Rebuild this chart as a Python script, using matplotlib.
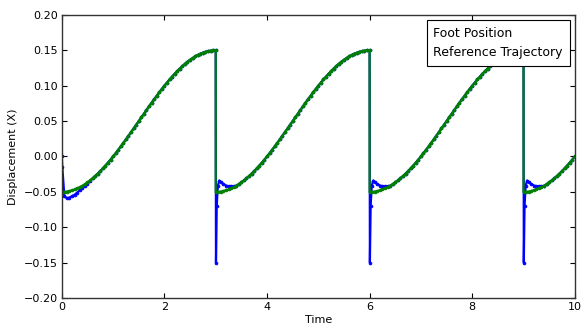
import numpy as np
import matplotlib
matplotlib.use("Agg")
import matplotlib.pyplot as plt

# one cycle of the reference trajectory (0.05 s apart)
ref_cycle = [-0.0500, -0.0499, -0.0495, -0.0488, -0.0478, -0.0466, -0.0451, -0.0434, -0.0414, -0.0391,
             -0.0366, -0.0339, -0.0309, -0.0277, -0.0243, -0.0207, -0.0169, -0.0129, -0.0088, -0.0045,
             0.0000, 0.0046, 0.0093, 0.0142, 0.0191, 0.0241, 0.0292, 0.0344, 0.0396, 0.0448,
             0.0500, 0.0552, 0.0604, 0.0656, 0.0708, 0.0759, 0.0809, 0.0858, 0.0907, 0.0954,
             0.1000, 0.1045, 0.1088, 0.1129, 0.1169, 0.1207, 0.1243, 0.1277, 0.1309, 0.1339,
             0.1366, 0.1391, 0.1414, 0.1434, 0.1451, 0.1466, 0.1478, 0.1488, 0.1495, 0.1499, 0.1500]
sample_dt = 0.05
cycle_start = [0.0, 3.0, 6.0, 9.0]
cycle_len = [61, 61, 61, 21]

# foot position where it differs from the reference
foot_start_t = [0.00, 0.01, 0.05, 0.10, 0.15, 0.20, 0.25, 0.30, 0.35, 0.40, 0.45, 0.50, 0.55]
foot_start_y = [0.000, -0.015, -0.056, -0.059, -0.058, -0.056, -0.054, -0.051, -0.048, -0.045, -0.042, -0.039, -0.035]
foot_start_join = 12
foot_jump_dt = [0.005, 0.02, 0.04, 0.07, 0.10, 0.15, 0.20, 0.25, 0.30, 0.35]
foot_jump_y = [-0.150, -0.070, -0.042, -0.034, -0.036, -0.039, -0.041, -0.042, -0.042, -0.042]
foot_jump_join = 8

ref_t, ref_y = [], []
foot_t, foot_y = [], []
for i, (s, n) in enumerate(zip(cycle_start, cycle_len)):
    for k in range(n):
        ref_t.append(s + k * sample_dt)
        ref_y.append(ref_cycle[k])
    if i == 0:
        foot_t += foot_start_t
        foot_y += foot_start_y
        join = foot_start_join
    else:
        foot_t += [s + d for d in foot_jump_dt]
        foot_y += foot_jump_y
        join = foot_jump_join
    for k in range(join, n):
        foot_t.append(s + k * sample_dt)
        foot_y.append(ref_cycle[k])

fig = plt.figure(figsize=(5.83, 3.25), dpi=100)
ax = fig.add_axes([0.106, 0.083, 0.88, 0.871])

ax.plot(foot_t, foot_y, '.-', color=(0, 0, 1), lw=1.6, ms=4, mew=0.6, label='Foot Position')
ax.plot(ref_t, ref_y, '.-', color=(0, 0.5, 0), lw=1.6, ms=4, mew=0.6, label='Reference Trajectory')

ax.set_xlim(0, 10)
ax.set_ylim(-0.2, 0.2)
ax.set_xticks([0, 2, 4, 6, 8, 10])
ax.set_yticks(np.arange(-0.20, 0.201, 0.05))
ax.tick_params(direction='in', top=True, right=True, length=3.5, labelsize=8, pad=3)
for sp in ax.spines.values():
    sp.set_linewidth(1.0)
    sp.set_color('#333333')

ax.set_xlabel('Time', fontsize=8, labelpad=2)
ax.set_ylabel('Displacement (X)', fontsize=8, labelpad=4)

leg = ax.legend(loc='upper right', handlelength=0, handletextpad=0, fancybox=False,
                edgecolor='black', framealpha=1, fontsize=9, borderpad=0.55,
                borderaxespad=0.4)
leg.get_frame().set_linewidth(0.8)
for h in leg.legend_handles:
    h.set_visible(False)

fig.savefig('out.png', dpi=100)
